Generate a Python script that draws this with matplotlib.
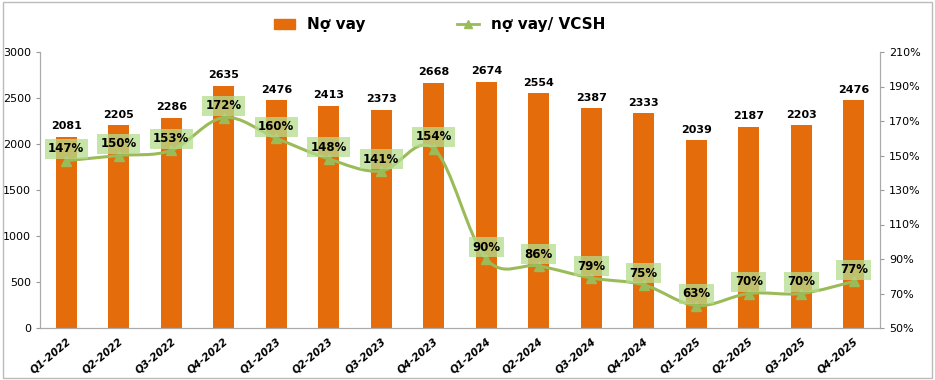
import matplotlib.pyplot as plt
from matplotlib.path import Path
from matplotlib.patches import PathPatch, Patch
from matplotlib.lines import Line2D
import numpy as np

# donnees
quarters = ['Q1-2022', 'Q2-2022', 'Q3-2022', 'Q4-2022', 'Q1-2023', 'Q2-2023', 'Q3-2023', 'Q4-2023',
            'Q1-2024', 'Q2-2024', 'Q3-2024', 'Q4-2024', 'Q1-2025', 'Q2-2025', 'Q3-2025', 'Q4-2025']
no_vay = [2081, 2205, 2286, 2635, 2476, 2413, 2373, 2668, 2674, 2554, 2387, 2333, 2039, 2187, 2203, 2476]
ratio = [147, 150, 153, 172, 160, 148, 141, 154, 90, 86, 79, 75, 63, 70, 70, 77]

orange = '#E46C0A'
green = '#9BBB59'

plt.rcParams['font.family'] = ['DejaVu Sans']
fig = plt.figure(figsize=(9.35, 3.8), dpi=100)
ax = fig.add_axes([40/935, 1-328/380, 840/935, 276/380])
ax2 = ax.twinx()

x = np.arange(len(quarters))
ax.bar(x, no_vay, width=0.4, color=orange, zorder=2)
for xi, v in zip(x, no_vay):
    ax.text(xi, v + 60, str(v), ha='center', va='bottom', fontsize=8, fontweight='bold')

ax.set_xlim(-0.5, len(quarters) - 0.5)
ax.set_ylim(0, 3000)
ax.set_yticks(range(0, 3001, 500))
ax.set_xticks(x)
ax.set_xticklabels(quarters, rotation=40, ha='right', rotation_mode='anchor', fontsize=7.5,
                   fontweight='bold', style='italic')
ax.tick_params(axis='x', length=0, pad=6)
ax.tick_params(axis='y', labelsize=8, length=3, color='#999999')

# ligne lissee (courbe de bezier a partir des points)
pts = list(zip(x, ratio))
verts = [pts[0]]
codes = [Path.MOVETO]
t = 0.17
for i in range(len(pts) - 1):
    p0 = pts[i - 1] if i > 0 else pts[i]
    p1 = pts[i]
    p2 = pts[i + 1]
    p3 = pts[i + 2] if i + 2 < len(pts) else pts[i + 1]
    c1 = (p1[0] + (p2[0] - p0[0]) * t, p1[1] + (p2[1] - p0[1]) * t)
    c2 = (p2[0] - (p3[0] - p1[0]) * t, p2[1] - (p3[1] - p1[1]) * t)
    verts += [c1, c2, p2]
    codes += [Path.CURVE4] * 3
ax2.add_patch(PathPatch(Path(verts, codes), fill=False, edgecolor=green, lw=2.2, zorder=3))
ax2.plot(x, ratio, linestyle='none', marker='^', color=green, markersize=7, zorder=4)
for xi, r in zip(x, ratio):
    ax2.text(xi, r + 3, '%d%%' % r, ha='center', va='bottom', fontsize=8.5, fontweight='bold', zorder=5,
             bbox=dict(boxstyle='square,pad=0.3', fc='#B5DC8C', ec='none', alpha=0.75))

ax2.set_ylim(50, 210)
ax2.set_yticks(range(50, 211, 20))
ax2.set_yticklabels(['%d%%' % v for v in range(50, 211, 20)])
ax2.tick_params(axis='y', labelsize=8, length=3, color='#999999')

for a in (ax, ax2):
    a.spines['top'].set_visible(False)
    for s in ('left', 'right', 'bottom'):
        a.spines[s].set_color('#AAAAAA')

handles = [Patch(color=orange, label='Nợ vay'),
           Line2D([], [], color=green, marker='^', lw=2, markersize=6, label='nợ vay/ VCSH')]
fig.legend(handles=handles, loc='center', bbox_to_anchor=(0.47, 0.935), ncol=2, frameon=False,
           prop={'size': 11, 'weight': 'bold'}, columnspacing=6, handlelength=1.4)

fig.patches.append(plt.Rectangle((0.003, 0.005), 0.994, 0.99, transform=fig.transFigure,
                                 fill=False, ec='#BBBBBB', lw=1))
fig.savefig('out.png', dpi=100)
